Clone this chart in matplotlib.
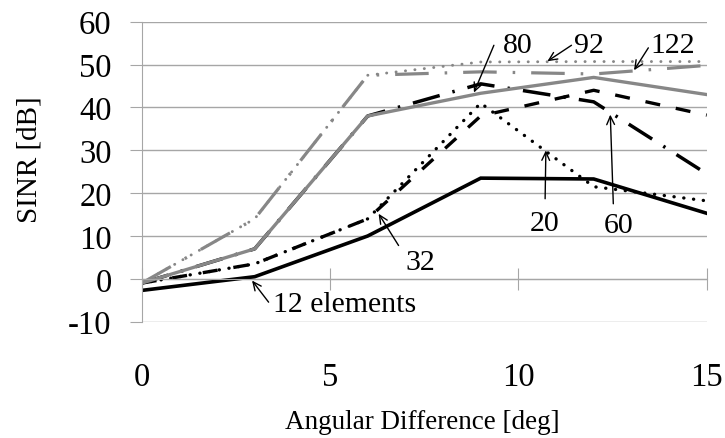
import matplotlib
matplotlib.use("Agg")
import matplotlib.pyplot as plt

plt.rcParams['font.family'] = ['Liberation Serif', 'DejaVu Serif']
plt.rcParams['axes.unicode_minus'] = False

# angular difference [deg]
angles = [0, 3, 6, 9, 12, 15]

# SINR [dB] per array size
sinr_12 = [-2.7, 0.5, 10.0, 23.5, 23.3, 15.3]
sinr_20 = [-1.0, 3.5, 14.0, 41.0, 21.5, 18.2]
sinr_32 = [-1.0, 3.5, 14.0, 38.0, 44.0, 38.2]
sinr_60 = [-1.0, 7.0, 38.0, 45.5, 41.3, 24.5]
sinr_80 = [-1.0, 7.0, 38.0, 43.3, 47.0, 43.0]
sinr_92 = [-1.0, 14.0, 47.5, 50.6, 50.7, 50.7]
sinr_122 = [-1.0, 14.0, 47.5, 48.3, 47.8, 49.8]

x_ticks = [0, 5, 10, 15]
y_ticks = [-10, 0, 10, 20, 30, 40, 50, 60]

BLACK = 'black'
GRAY = '#878787'
GRID = '#a6a6a6'

fig = plt.figure(figsize=(7.25, 4.39), dpi=100)
ax = fig.add_axes([0.1954, 0.2649, 0.7794, 0.6834])

ax.plot(angles, sinr_12, color=BLACK, lw=2.6, solid_joinstyle='miter')
ax.plot(angles, sinr_20, color=BLACK, lw=2.4, linestyle=(0, (0.05, 2.9)),
        dash_capstyle='round')
ax.plot(angles, sinr_32, color=BLACK, lw=2.4, linestyle=(0, (4.5, 4.8)))
ax.plot(angles, sinr_60, color=BLACK, lw=2.5, linestyle=(0, (8.0, 3.8, 0.7, 3.8)))
ax.plot(angles, sinr_80, color=GRAY, lw=2.4)
ax.plot(angles, sinr_92, color=GRAY, lw=2.1, linestyle=(0, (0.05, 3.2)),
        dash_capstyle='round')
ax.plot(angles, sinr_122, color=GRAY, lw=2.3, linestyle=(0, (10.5, 5.0, 0.8, 5.0)))

# labels with arrows: (text, text pos, arrow tail, arrow tip)
notes = [
    ('12 elements', (5.38, -7.4), (3.37, -5.44), (2.93, -0.40)),
    ('32', (7.40, 2.34), (6.82, 7.78), (6.29, 15.19)),
    ('20', (10.70, 11.3), (10.71, 18.69), (10.73, 29.98)),
    ('60', (12.65, 10.9), (12.52, 17.52), (12.44, 38.32)),
    ('80', (9.99, 53.0), (9.35, 54.5), (8.82, 43.46)),
    ('92', (11.87, 53.0), (11.41, 54.5), (10.77, 50.77)),
    ('122', (14.10, 53.0), (13.45, 53.9), (13.07, 48.67)),
]
for label, pos, tail, tip in notes:
    ax.text(pos[0], pos[1], label, ha='center', va='baseline', fontsize=21.5)
    ax.annotate('', xy=tip, xytext=tail,
                arrowprops=dict(arrowstyle='->,head_length=0.6,head_width=0.28',
                                color=BLACK, lw=1.0, shrinkA=0, shrinkB=0))

ax.set_xlim(0, 15)
ax.set_ylim(-10, 60)
ax.set_yticks(y_ticks)
ax.set_xticks(x_ticks)
ax.yaxis.grid(True, color=GRID, lw=1.0)
ax.set_axisbelow(True)

for side in ['top', 'right']:
    ax.spines[side].set_visible(False)
ax.spines['left'].set_color(GRID)
ax.spines['bottom'].set_color(GRID)
ax.spines['bottom'].set_position(('data', 0))
ax.tick_params(axis='y', direction='out', length=8.6, color=GRID, pad=13,
               labelsize=23.5)
ax.tick_params(axis='x', direction='inout', length=16, color=GRID,
               labelbottom=False)

# tick labels sit below the plot, not on the zero line
sec = ax.secondary_xaxis('bottom')
sec.set_xticks(x_ticks)
sec.spines['bottom'].set_visible(False)
sec.tick_params(length=0, pad=29, labelsize=23.5)

ax.set_ylabel('SINR [dB]', fontsize=21)
ax.yaxis.set_label_coords(-0.176, 0.542)
ax.set_xlabel('Angular Difference [deg]', fontsize=19.5)
ax.xaxis.set_label_coords(0.496, -0.292)

fig.savefig('out.png', dpi=100)
